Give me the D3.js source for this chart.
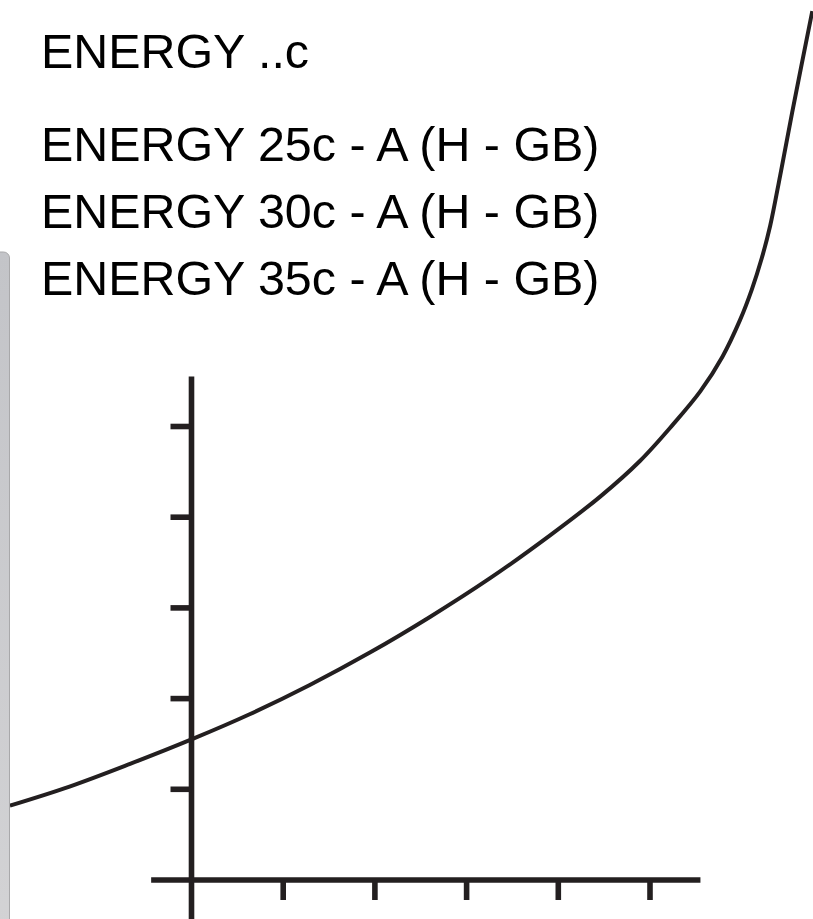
<!DOCTYPE html>
<html>
<head>
<meta charset="utf-8">
<script src="https://cdn.jsdelivr.net/npm/d3@7"></script>
<style>
  body { margin: 0; background: #fff; }
  svg { display: block; }
</style>
</head>
<body>
<div id="chart"></div>
<script>

let svgWidth = 813;
let svgHeight = 919;

// header texts
let titleLine = "ENERGY ..c";
let seriesLabels = ["ENERGY 25c - A (H - GB)", "ENERGY 30c - A (H - GB)", "ENERGY 35c - A (H - GB)"];

// axes: ticks only, no labels
let xTicks = [1, 2, 3, 4, 5];
let yTicks = [1, 2, 3, 4, 5];

// curve (axis units)
let curveX = [-1.98, -1.33, -0.67, 0.00, 0.64, 1.29, 1.95, 2.60, 3.26, 3.91, 4.46, 4.89, 5.24, 5.55, 5.79, 5.98, 6.11, 6.22, 6.31, 6.42, 6.55, 6.77];
let curveY = [0.82, 1.03, 1.28, 1.55, 1.83, 2.15, 2.51, 2.90, 3.33, 3.80, 4.23, 4.62, 5.01, 5.39, 5.77, 6.17, 6.51, 6.86, 7.21, 7.77, 8.46, 9.58];

let ink = "#231f20";

let svg = d3.select("#chart")
    .append("svg")
    .attr("width", svgWidth)
    .attr("height", svgHeight);

let xScale = d3.scaleLinear()
    .domain([0, 1])
    .range([191.5, 283.2]);

let yScale = d3.scaleLinear()
    .domain([0, 1])
    .range([880, 789.3]);

// texts
svg.append("text")
    .attr("x", 41)
    .attr("y", 67.7)
    .attr("font-family", "Liberation Sans, Arial, sans-serif")
    .attr("font-size", 48.4)
    .attr("fill", "#000")
    .text(titleLine);

let labelBaselines = [160.7, 228.3, 295];
svg.selectAll("text.series")
    .data(seriesLabels)
    .enter()
    .append("text")
    .attr("class", "series")
    .attr("x", 41)
    .attr("y", (d, i) => labelBaselines[i])
    .attr("font-family", "Liberation Sans, Arial, sans-serif")
    .attr("font-size", 48.4)
    .attr("fill", "#000")
    .text(d => d);

// axes
let axisGroup = svg.append("g")
    .attr("stroke", ink)
    .attr("stroke-width", 5.6);

axisGroup.append("line")
    .attr("x1", xScale(0)).attr("x2", xScale(0))
    .attr("y1", yScale(5.55)).attr("y2", svgHeight + 5);

axisGroup.append("line")
    .attr("x1", xScale(-0.44)).attr("x2", xScale(5.55))
    .attr("y1", yScale(0)).attr("y2", yScale(0));

axisGroup.selectAll("line.xtick")
    .data(xTicks)
    .enter()
    .append("line")
    .attr("class", "xtick")
    .attr("x1", d => xScale(d)).attr("x2", d => xScale(d))
    .attr("y1", yScale(0)).attr("y2", yScale(0) + 20);

axisGroup.selectAll("line.ytick")
    .data(yTicks)
    .enter()
    .append("line")
    .attr("class", "ytick")
    .attr("x1", xScale(0) - 21).attr("x2", xScale(0))
    .attr("y1", d => yScale(d)).attr("y2", d => yScale(d));

// curve
let points = curveX.map((x, i) => [x, curveY[i]]);
let line = d3.line()
    .x(d => xScale(d[0]))
    .y(d => yScale(d[1]))
    .curve(d3.curveCatmullRom.alpha(0.5));

svg.append("path")
    .datum(points)
    .attr("d", line)
    .attr("fill", "none")
    .attr("stroke", ink)
    .attr("stroke-width", 4);

// grey side panel on the left edge
let defs = svg.append("defs");
let grad = defs.append("linearGradient")
    .attr("id", "panelGrad")
    .attr("x1", 0).attr("y1", 0).attr("x2", 0).attr("y2", 1);
grad.append("stop").attr("offset", "0%").attr("stop-color", "#c3c4c8");
grad.append("stop").attr("offset", "100%").attr("stop-color", "#d3d3d5");

svg.append("rect")
    .attr("x", -10)
    .attr("y", 252)
    .attr("width", 19.5)
    .attr("height", 700)
    .attr("rx", 6)
    .attr("fill", "url(#panelGrad)")
    .attr("stroke", "#a8a8aa")
    .attr("stroke-width", 1);

</script>
</body>
</html>
